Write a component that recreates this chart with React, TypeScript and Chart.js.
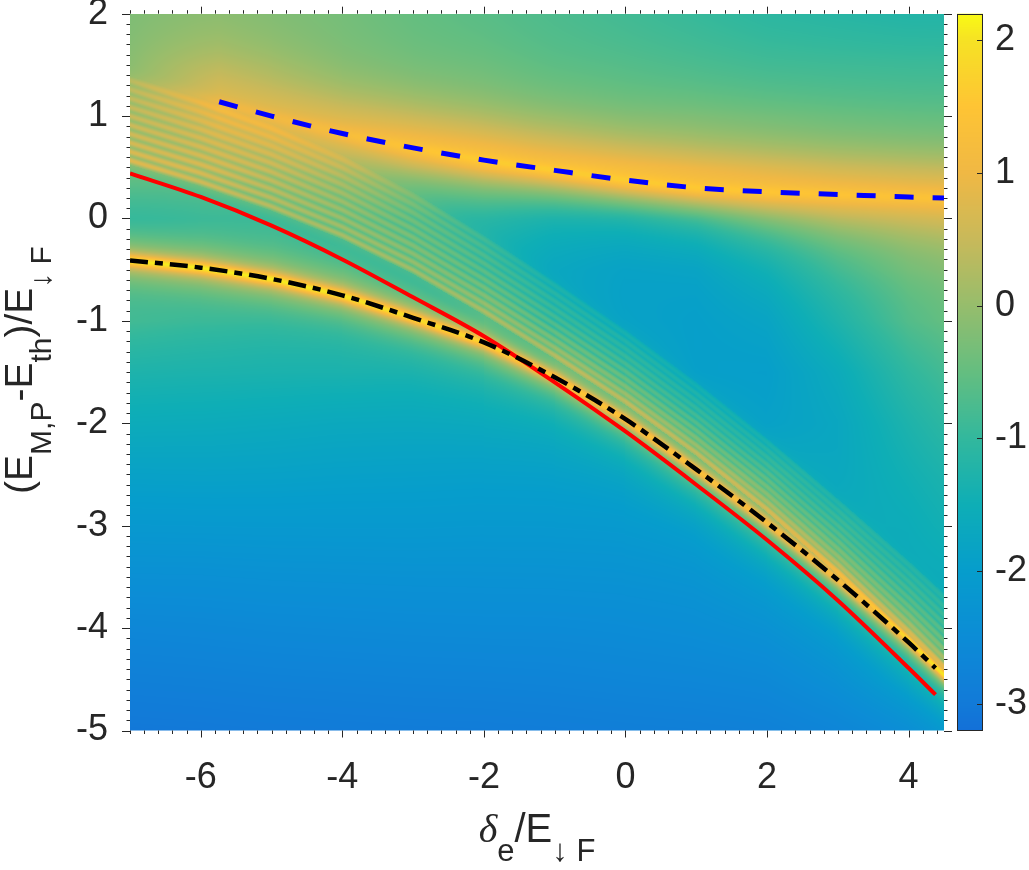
import { useEffect, useRef } from "react";
import { Chart, registerables } from "chart.js";

Chart.register(...registerables);

const FONT = '"Liberation Sans", Arial, Helvetica, sans-serif';
const INK = "#262626";

// curves
const redX = [-7, -6, -5, -4, -3, -2, -1, 0, 1, 2, 3, 4, 4.38];
const redY = [0.44, 0.21, -0.07, -0.4, -0.77, -1.15, -1.6, -2.08, -2.6, -3.14, -3.73, -4.39, -4.65];
const blackX = [-7, -6, -5, -4, -3, -2, -1, 0, 1, 2, 3, 4, 4.38];
const blackY = [-0.41, -0.48, -0.59, -0.75, -0.97, -1.21, -1.55, -1.96, -2.45, -2.97, -3.53, -4.14, -4.39];
const blueX = [-5.74, -5, -4, -3, -2, -1, 0, 1, 2, 3, 4, 4.5];
const blueY = [1.14, 1.0, 0.83, 0.69, 0.57, 0.47, 0.375, 0.3, 0.26, 0.235, 0.21, 0.2];

// brightness on top of the ridges under the blue and black curves
const bluePeak = [0.9, 1.0, 1.2, 1.45, 1.6, 1.6, 1.6, 1.55, 1.5, 1.45, 1.4, 1.4];
const blueWidthBelow = [40, 40, 35, 30, 28, 26, 26, 28, 35, 42, 48, 50];
const blackPeak = [2.05, 2.05, 2.0, 1.95, 1.85, 1.7, 1.5, 1.4, 1.3, 1.2, 1.1, 1.0, 0.95];

// fringe band (lower and upper edge) and number of fringes
const fringeX = [-7, -6, -5, -4, -3, -2, -1, 0, 1, 2, 3, 4, 4.5];
const fringeLo = [0.57, 0.36, 0.12, -0.16, -0.5, -0.9, -1.33, -1.78, -2.28, -2.83, -3.44, -4.1, -4.45];
const fringeHi = [1.35, 1.13, 0.88, 0.58, 0.22, -0.2, -0.65, -1.12, -1.63, -2.18, -2.77, -3.38, -3.7];
const fringeCount = 10;

// smooth part of the map, rows y = 2 ... -5
const mapX = [-7, -6, -5, -4, -3, -2, -1, 0, 1, 2, 3, 4, 4.5];
const mapY = [2, 1.5, 1, 0.5, 0, -0.5, -1, -1.5, -2, -2.5, -3, -3.5, -4, -4.5, -5];
const mapZ = [
  [-0.35, -0.4, -0.5, -0.6, -0.75, -0.85, -0.95, -1.05, -1.15, -1.25, -1.3, -1.35, -1.35],
  [-0.4, -0.45, -0.6, -0.75, -0.85, -0.9, -1.0, -1.05, -1.1, -1.15, -1.15, -1.15, -1.15],
  [-0.45, -0.65, -0.85, -0.9, -0.95, -1.0, -1.05, -1.1, -1.05, -1.05, -1.05, -1.05, -1.05],
  [-0.5, -0.65, -0.9, -1.0, -1.05, -1.15, -1.2, -1.25, -1.2, -1.15, -1.1, -1.05, -1.05],
  [-1.35, -1.3, -1.3, -1.35, -1.45, -1.6, -1.85, -2.0, -1.95, -1.65, -1.3, -1.15, -1.1],
  [-1.3, -1.3, -1.3, -1.35, -1.45, -1.65, -1.95, -2.1, -2.1, -1.85, -1.35, -0.95, -0.85],
  [-1.05, -1.2, -1.35, -1.45, -1.45, -1.55, -1.9, -2.05, -2.1, -2.0, -1.5, -0.95, -0.8],
  [-1.35, -1.4, -1.45, -1.5, -1.6, -1.6, -1.65, -1.9, -2.1, -2.1, -1.75, -1.2, -1.0],
  [-1.62, -1.65, -1.7, -1.75, -1.78, -1.8, -1.85, -1.85, -1.95, -2.05, -1.85, -1.4, -1.2],
  [-1.9, -1.9, -1.92, -1.95, -1.97, -2.0, -2.02, -2.05, -1.95, -1.85, -1.85, -1.55, -1.4],
  [-2.15, -2.15, -2.15, -2.15, -2.15, -2.17, -2.18, -2.2, -2.2, -2.0, -1.85, -1.7, -1.55],
  [-2.4, -2.4, -2.38, -2.37, -2.36, -2.36, -2.36, -2.36, -2.35, -2.25, -2.05, -1.85, -1.75],
  [-2.65, -2.63, -2.6, -2.58, -2.56, -2.55, -2.55, -2.53, -2.5, -2.45, -2.3, -2.0, -1.9],
  [-2.85, -2.83, -2.8, -2.78, -2.76, -2.75, -2.73, -2.7, -2.68, -2.65, -2.5, -2.25, -2.15],
  [-3.05, -3.03, -3.0, -2.98, -2.96, -2.95, -2.93, -2.9, -2.88, -2.85, -2.75, -2.6, -2.5],
];

const xTicks = [-6, -4, -2, 0, 2, 4];
const yTicks = [-5, -4, -3, -2, -1, 0, 1, 2];
const cTicks = [-3, -2, -1, 0, 1, 2];
const cMin = -3.2;
const cMax = 2.2;

// colour scale as shown in the colour bar
const cmapV = [-3.2, -3, -2.5, -2, -1.5, -1, -0.5, 0, 0.5, 1, 1.5, 2, 2.2];
const cmapRGB = [
  [19, 112, 216],
  [18, 122, 216],
  [12, 140, 214],
  [6, 157, 204],
  [14, 174, 182],
  [50, 184, 157],
  [100, 190, 128],
  [150, 189, 108],
  [200, 185, 90],
  [240, 184, 68],
  [254, 196, 52],
  [246, 226, 36],
  [249, 250, 20],
];

// ridge shapes: narrow share, narrow width, broad width above / below (px)
const glows = [
  { xs: blueX, ys: blueY, peak: bluePeak, below: blueWidthBelow, fn: 0.2, wn: 7, wUp: 50, tail: 0.25 },
  { xs: blackX, ys: blackY, peak: blackPeak, below: null, fn: 0.65, wn: 6, wUp: 26, tail: 1 },
];
const fringeAmp = 0.85;
const fringeW = 3.0;
const fringeBase = 0.3;

function lerp(xs: number[], ys: number[], v: number) {
  const n = xs.length;
  let i = 0;
  if (v >= xs[n - 1]) i = n - 2;
  else while (i < n - 2 && v > xs[i + 1]) i++;
  const s = (ys[i + 1] - ys[i]) / (xs[i + 1] - xs[i]);
  return { y: ys[i] + s * (v - xs[i]), s };
}

function clampLerp(xs: number[], ys: number[], v: number) {
  if (v <= xs[0]) return ys[0];
  if (v >= xs[xs.length - 1]) return ys[ys.length - 1];
  return lerp(xs, ys, v).y;
}

const LUT_N = 1024;
function buildLut() {
  const lut = new Uint8ClampedArray(LUT_N * 3);
  for (let k = 0; k < LUT_N; k++) {
    const v = cMin + (k / (LUT_N - 1)) * (cMax - cMin);
    let i = 0;
    while (i < cmapV.length - 2 && v > cmapV[i + 1]) i++;
    const f = Math.min(1, Math.max(0, (v - cmapV[i]) / (cmapV[i + 1] - cmapV[i])));
    for (let c = 0; c < 3; c++) {
      lut[k * 3 + c] = cmapRGB[i][c] + f * (cmapRGB[i + 1][c] - cmapRGB[i][c]);
    }
  }
  return lut;
}
const lut = buildLut();

function lutIndex(v: number) {
  const k = Math.round(((v - cMin) / (cMax - cMin)) * (LUT_N - 1));
  return k < 0 ? 0 : k > LUT_N - 1 ? LUT_N - 1 : k;
}

function smoothStep(e0: number, e1: number, v: number) {
  const t = Math.min(1, Math.max(0, (v - e0) / (e1 - e0)));
  return t * t * (3 - 2 * t);
}

function renderMap(chart: any) {
  const a = chart.chartArea;
  const sx = chart.scales.x;
  const sy = chart.scales.y;
  const w = Math.ceil(a.right - a.left);
  const h = Math.ceil(a.bottom - a.top);
  const kx = sx.getPixelForValue(1) - sx.getPixelForValue(0);
  const ky = sy.getPixelForValue(0) - sy.getPixelForValue(1);
  const off = document.createElement("canvas");
  off.width = w;
  off.height = h;
  const octx = off.getContext("2d")!;
  const img = octx.createImageData(w, h);
  const d = img.data;
  const rows = mapY.length;
  const step = mapY[0] - mapY[1];
  const col = new Float64Array(rows);
  const bgAt = (yv: number) => {
    let r = Math.floor((mapY[0] - yv) / step);
    r = Math.max(0, Math.min(rows - 2, r));
    const f = (mapY[r] - yv) / step;
    return col[r] + (col[r + 1] - col[r]) * f;
  };

  for (let i = 0; i < w; i++) {
    const xv = sx.getValueForPixel(a.left + i + 0.5);
    for (let r = 0; r < rows; r++) col[r] = lerp(mapX, mapZ[r], xv).y;

    const g = glows.map((gl) => {
      const p = lerp(gl.xs, gl.ys, xv);
      let fade = 1;
      if (xv < gl.xs[0]) {
        const f = (gl.xs[0] - xv) / (gl.xs[0] - sx.min);
        fade = 1 - f * (1 - gl.tail);
      }
      const amp = Math.max(0, clampLerp(gl.xs, gl.peak, xv) - bgAt(p.y)) * fade;
      return {
        py: sy.getPixelForValue(p.y),
        perp: 1 / Math.sqrt(1 + ((p.s * ky) / kx) ** 2),
        amp,
        fn: gl.fn,
        wn: gl.wn,
        wUp: gl.wUp,
        wDown: gl.below ? clampLerp(gl.xs, gl.below, xv) : gl.wUp,
      };
    });

    const lo = lerp(fringeX, fringeLo, xv);
    const hi = lerp(fringeX, fringeHi, xv);
    const loPx = sy.getPixelForValue(lo.y);
    const hiPx = sy.getPixelForValue(hi.y);
    const fStep = (loPx - hiPx) / (fringeCount - 1);
    const fPerp = 1 / Math.sqrt(1 + ((((lo.s + hi.s) / 2) * ky) / kx) ** 2);

    for (let j = 0; j < h; j++) {
      const py = a.top + j + 0.5;
      const yv = sy.getValueForPixel(py);
      let v = bgAt(yv);
      for (const b of g) {
        const dd = Math.abs(py - b.py) * b.perp;
        const ww = py < b.py ? b.wUp : b.wDown;
        v += b.amp * (b.fn / (1 + (dd / b.wn) ** 2) + (1 - b.fn) / (1 + (dd / ww) ** 2));
      }
      const t = (loPx - py) / fStep;
      // fringes fade out towards the upper edge of the band
      const env = 1 - 0.6 * Math.min(1, Math.max(0, t / (fringeCount - 1)));
      v += env * fringeBase * smoothStep(loPx + 14, loPx - 2, py) * smoothStep(hiPx - 18, hiPx + 10, py);
      if (t > -0.5 && t < fringeCount - 0.5) {
        const fd = Math.abs(t - Math.round(t)) * fStep * fPerp;
        v += env * fringeAmp * Math.exp(-((fd / fringeW) ** 2));
      }
      const k = lutIndex(v) * 3;
      const o = (j * w + i) * 4;
      d[o] = lut[k];
      d[o + 1] = lut[k + 1];
      d[o + 2] = lut[k + 2];
      d[o + 3] = 255;
    }
  }
  octx.putImageData(img, 0, 0);
  return off;
}

const mapPlugin = {
  id: "map",
  beforeDatasetsDraw(chart: any) {
    const a = chart.chartArea;
    const ctx = chart.ctx;
    const off = renderMap(chart);
    ctx.save();
    ctx.beginPath();
    ctx.rect(a.left, a.top, a.right - a.left, a.bottom - a.top);
    ctx.clip();
    ctx.imageSmoothingEnabled = false;
    ctx.drawImage(off, a.left, a.top);
    ctx.restore();
  },
};

type Seg = { t: string; sub?: boolean; font?: string };

function drawRich(ctx: CanvasRenderingContext2D, segs: Seg[], cx: number, base: number, size: number) {
  const mainFont = `${size}px ${FONT}`;
  const subFont = `${Math.round(size * 0.78)}px ${FONT}`;
  const widths = segs.map((s) => {
    ctx.font = s.font ?? (s.sub ? subFont : mainFont);
    return ctx.measureText(s.t).width;
  });
  const total = widths.reduce((p, q) => p + q, 0);
  let x = cx - total / 2;
  segs.forEach((s, i) => {
    ctx.font = s.font ?? (s.sub ? subFont : mainFont);
    ctx.fillText(s.t, x, base + (s.sub ? 19 : 0));
    x += widths[i];
  });
}

const framePlugin = {
  id: "frame",
  afterDraw(chart: any) {
    const ctx: CanvasRenderingContext2D = chart.ctx;
    const a = chart.chartArea;
    const sx = chart.scales.x;
    const sy = chart.scales.y;
    const cb = chart.scales.c;

    ctx.save();
    ctx.strokeStyle = INK;
    ctx.lineWidth = 1;
    ctx.beginPath();
    // x ticks every 0.2, major at labels
    for (let k = 0; k <= 57; k++) {
      const v = -7 + k * 0.2;
      const major = xTicks.some((t) => Math.abs(t - v) < 1e-6);
      const len = major ? 7 : 3.5;
      const px = Math.round(sx.getPixelForValue(v)) + 0.5;
      ctx.moveTo(px, a.bottom);
      ctx.lineTo(px, a.bottom + len);
      ctx.moveTo(px, a.top);
      ctx.lineTo(px, a.top - len);
    }
    // y ticks every 0.1, major at labels
    for (let k = 0; k <= 70; k++) {
      const v = -5 + k * 0.1;
      const major = yTicks.some((t) => Math.abs(t - v) < 1e-6);
      const len = major ? 8 : 3.5;
      const py = Math.round(sy.getPixelForValue(v)) + 0.5;
      ctx.moveTo(a.left, py);
      ctx.lineTo(a.left - len, py);
      ctx.moveTo(a.right, py);
      ctx.lineTo(a.right + len, py);
    }
    ctx.stroke();

    // colour bar
    const L = Math.round(cb.left + 13);
    const R = Math.round(cb.left + 39);
    const T = a.top;
    const B = a.bottom;
    for (let yy = Math.floor(T); yy < Math.ceil(B); yy++) {
      const k = lutIndex(cb.getValueForPixel(yy + 0.5)) * 3;
      ctx.fillStyle = `rgb(${lut[k]},${lut[k + 1]},${lut[k + 2]})`;
      ctx.fillRect(L, Math.max(T, yy), R - L, 1);
    }
    ctx.strokeStyle = INK;
    ctx.strokeRect(L + 0.5, Math.round(T) + 0.5, R - L - 1, Math.round(B - T) - 1);
    ctx.beginPath();
    for (const v of cTicks) {
      const py = Math.round(cb.getPixelForValue(v)) + 0.5;
      ctx.moveTo(R, py);
      ctx.lineTo(R - 6, py);
    }
    ctx.stroke();

    // axis titles
    ctx.fillStyle = INK;
    ctx.textBaseline = "alphabetic";
    ctx.textAlign = "left";
    drawRich(
      ctx,
      [
        { t: "δ", font: `italic 40px "Liberation Serif", serif` },
        { t: "e", sub: true },
        { t: "/E" },
        { t: "↓ F", sub: true },
      ],
      (a.left + a.right) / 2,
      842,
      40
    );
    ctx.translate(32, 370);
    ctx.rotate(-Math.PI / 2);
    drawRich(
      ctx,
      [
        { t: "(E" },
        { t: "M,P", sub: true },
        { t: "-E" },
        { t: "th", sub: true },
        { t: ")/E" },
        { t: "↓ F", sub: true },
      ],
      0,
      0,
      39
    );
    ctx.restore();
  },
};

const tickFont = { family: FONT, size: 36 };

function line(xs: number[], ys: number[]) {
  return xs.map((x, i) => ({ x, y: ys[i] }));
}

export default function App() {
  const ref = useRef<HTMLCanvasElement | null>(null);

  useEffect(() => {
    const chart = new Chart(ref.current!, {
      type: "scatter",
      data: {
        datasets: [
          {
            label: "black",
            data: line(blackX, blackY),
            borderColor: "#000000",
            borderWidth: 4.5,
            borderDash: [18, 7, 8, 7],
            showLine: true,
            pointRadius: 0,
            cubicInterpolationMode: "monotone",
            order: 0,
          },
          {
            label: "red",
            data: line(redX, redY),
            borderColor: "#ff0000",
            borderWidth: 4,
            showLine: true,
            pointRadius: 0,
            cubicInterpolationMode: "monotone",
            order: 1,
          },
          {
            label: "blue",
            data: line(blueX, blueY),
            borderColor: "#0000ff",
            borderWidth: 5,
            borderDash: [19, 19],
            showLine: true,
            pointRadius: 0,
            cubicInterpolationMode: "monotone",
            order: 0,
          },
        ],
      },
      options: {
        animation: false,
        responsive: false,
        events: [],
        layout: { padding: { left: 8, top: 13.7, right: 0, bottom: 0 } },
        plugins: { legend: { display: false }, tooltip: { enabled: false } },
        scales: {
          x: {
            type: "linear",
            min: -7,
            max: 4.5,
            afterBuildTicks: (s: any) => {
              s.ticks = xTicks.map((value) => ({ value }));
            },
            afterFit: (s: any) => {
              s.height = 139.5;
              s.paddingLeft = 0;
              s.paddingRight = 0;
            },
            grid: { display: false, drawTicks: false },
            border: { display: false },
            ticks: { font: tickFont, color: INK, padding: 26, maxRotation: 0, autoSkip: false },
          },
          y: {
            type: "linear",
            min: -5,
            max: 2,
            afterBuildTicks: (s: any) => {
              s.ticks = yTicks.map((value) => ({ value }));
            },
            afterFit: (s: any) => {
              s.width = 122;
              s.paddingTop = 0;
              s.paddingBottom = 0;
            },
            grid: { display: false, drawTicks: false },
            border: { display: false },
            ticks: { font: tickFont, color: INK, padding: 22, autoSkip: false },
          },
          c: {
            type: "linear",
            position: "right",
            min: cMin,
            max: cMax,
            afterBuildTicks: (s: any) => {
              s.ticks = cTicks.map((value) => ({ value }));
            },
            afterFit: (s: any) => {
              s.width = 85;
              s.paddingTop = 0;
              s.paddingBottom = 0;
            },
            grid: { display: false, drawTicks: false },
            border: { display: false },
            ticks: { font: tickFont, color: INK, padding: 51, autoSkip: false },
          },
        },
      } as any,
      plugins: [mapPlugin, framePlugin],
    });
    return () => chart.destroy();
  }, []);

  return (
    <div style={{ position: "absolute", left: 0, top: 0, width: 1029, height: 870, background: "#fff" }}>
      <canvas ref={ref} width={1029} height={870} style={{ display: "block" }} />
    </div>
  );
}
